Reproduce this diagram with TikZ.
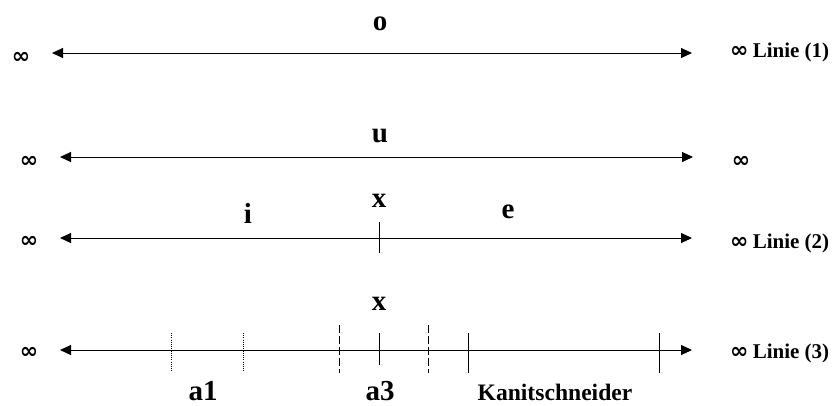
\documentclass[tikz,border=0pt]{standalone}
\usepackage{fontspec}
\setmainfont{Liberation Serif}
\newfontfamily\inffont{DejaVu Sans}
\usetikzlibrary{arrows.meta}
\newcommand{\infsym}[1]{{\inffont\bfseries\fontsize{#1}{#1}\selectfont ∞}}
\tikzset{
  axis/.style={line width=1pt, {Triangle[length=11pt,width=10pt]}-{Triangle[length=11pt,width=10pt]}},
  tickmark/.style={line width=0.7pt},
  dottick/.style={line width=0.7pt, dash pattern=on 1pt off 1.2pt},
  dashtick/.style={line width=0.8pt, dash pattern=on 8pt off 3pt},
  biglabel/.style={inner sep=0pt, anchor=base, font=\bfseries\fontsize{29}{30}\selectfont},
  midlabel/.style={inner sep=0pt, anchor=base, font=\bfseries\fontsize{23.6}{25}\selectfont},
  linelabel/.style={inner sep=0pt, anchor=base west, font=\bfseries\fontsize{21}{22}\selectfont},
  inflabel/.style={inner sep=0pt, anchor=center},
}
\begin{document}
\begin{tikzpicture}[x=1pt,y=-1pt]
\useasboundingbox (0,0) rectangle (835,405);
% line 1
\coordinate (l1a) at (52,53);
\coordinate (l1b) at (692,53);
\draw[axis] (l1a) -- (l1b);
\node[biglabel] (o) at (380,30) {o};
\node[inflabel] (inf1) at (21,58) {\infsym{22}};
\node[linelabel] (lin1) at (730,57) {\infsym{22}\hspace{-1pt} Linie (1)};
% line 2
\coordinate (l2a) at (60,157);
\coordinate (l2b) at (693,157);
\draw[axis] (l2a) -- (l2b);
\node[biglabel] (u) at (380,142) {u};
\node[inflabel] (inf2) at (29,162) {\infsym{22}};
\node[inflabel] (inf2r) at (741,162) {\infsym{22}};
% line 3
\coordinate (l3a) at (60,238);
\coordinate (l3b) at (692,238);
\draw[axis] (l3a) -- (l3b);
\coordinate (t3a) at (379,222);
\coordinate (t3b) at (379,253);
\draw[tickmark] (t3a) -- (t3b);
\node[biglabel] (x1) at (379,207) {x};
\node[biglabel] (i) at (248,223) {i};
\node[biglabel] (e) at (508,218) {e};
\node[inflabel] (inf3) at (29,242) {\infsym{22}};
\node[linelabel] (lin2) at (730,248) {\infsym{22}\hspace{-1pt} Linie (2)};
% line 4
\coordinate (l4a) at (60,350);
\coordinate (l4b) at (692,350);
\draw[axis] (l4a) -- (l4b);
\node[biglabel] (x2) at (379,310) {x};
\coordinate (d1a) at (171,333); \coordinate (d1b) at (171,372);
\coordinate (d2a) at (243,333); \coordinate (d2b) at (243,372);
\draw[dottick] (d1a) -- (d1b);
\draw[dottick] (d2a) -- (d2b);
\coordinate (s1a) at (339,325); \coordinate (s1b) at (339,373);
\coordinate (s2a) at (428,325); \coordinate (s2b) at (428,373);
\draw[dashtick] (s1a) -- (s1b);
\draw[dashtick] (s2a) -- (s2b);
\coordinate (m1a) at (379,333); \coordinate (m1b) at (379,365);
\coordinate (m2a) at (468,333); \coordinate (m2b) at (468,373);
\coordinate (m3a) at (659,333); \coordinate (m3b) at (659,373);
\draw[tickmark] (m1a) -- (m1b);
\draw[tickmark] (m2a) -- (m2b);
\draw[tickmark] (m3a) -- (m3b);
\node[biglabel] (a1) at (203,400) {a1};
\node[biglabel] (a3) at (380,400) {a3};
\node[midlabel] (kan) at (555,400) {Kanitschneider};
\node[inflabel] (inf4) at (29,353) {\infsym{22}};
\node[linelabel] (lin3) at (730,358) {\infsym{22}\hspace{-1pt} Linie (3)};
\end{tikzpicture}
\end{document}
